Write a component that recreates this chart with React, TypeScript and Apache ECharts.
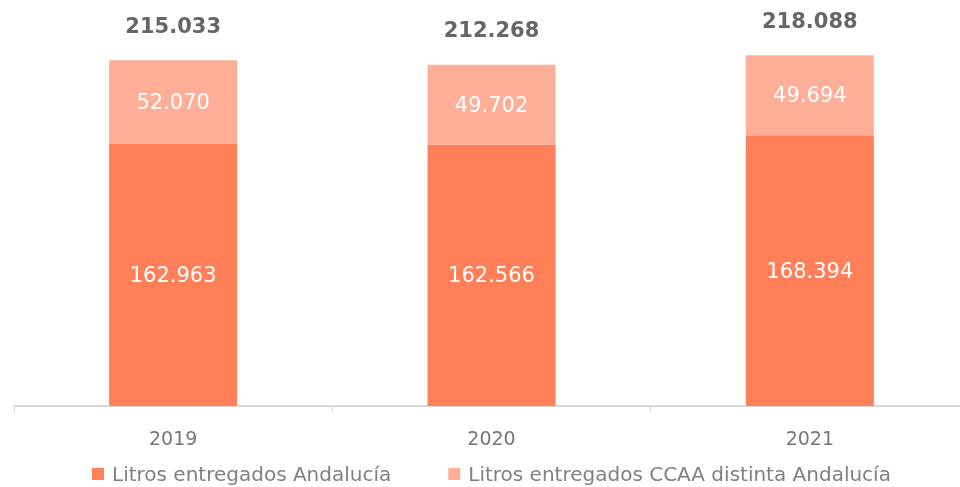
import React, { useEffect, useRef } from "react";
import * as echarts from "echarts";

const categories = ["2019", "2020", "2021"];
const andalucia = [162963, 162566, 168394];
const otrasCCAA = [52070, 49702, 49694];
const totals = [215033, 212268, 218088];
const seriesNames = ["Litros entregados Andalucía", "Litros entregados CCAA distinta Andalucía"];

const fmt = (v: number) => {
  const s = String(Math.round(v));
  return s.replace(/\B(?=(\d{3})+(?!\d))/g, ".");
};

export default function App() {
  const ref = useRef<HTMLDivElement>(null);
  useEffect(() => {
    if (!ref.current) return;
    const chart = echarts.init(ref.current, undefined, { renderer: "svg" });
    const font = "'DejaVu Sans', 'Noto Sans', sans-serif";
    chart.setOption({
      animation: false,
      textStyle: { fontFamily: font },
      grid: { left: 14, right: 0, top: 4, bottom: 81 },
      legend: {
        data: seriesNames,
        top: 459,
        left: 87,
        padding: 5,
        itemWidth: 12,
        itemHeight: 12,
        itemGap: 57,
        icon: "rect",
        textStyle: {
          color: "#808080",
          fontSize: 20,
          lineHeight: 20,
          fontFamily: font,
          padding: [0, 0, 0, 3],
        },
      },
      xAxis: {
        type: "category",
        data: categories,
        axisLine: { lineStyle: { color: "#d9d9d9", width: 2 } },
        axisTick: { show: true, length: 6, lineStyle: { color: "#d9d9d9", width: 1 } },
        axisLabel: { color: "#767676", fontSize: 19, margin: 22, fontFamily: font },
      },
      yAxis: {
        type: "value",
        min: 0,
        max: 250000,
        show: false,
        splitLine: { show: false },
      },
      series: [
        {
          name: seriesNames[0],
          type: "bar",
          stack: "total",
          data: andalucia,
          barWidth: 128,
          itemStyle: { color: "#FF7F59" },
          label: {
            show: true,
            position: "inside",
            color: "#ffffff",
            fontSize: 21,
            fontFamily: font,
            formatter: (p: any) => fmt(p.value),
          },
        },
        {
          name: seriesNames[1],
          type: "bar",
          stack: "total",
          data: otrasCCAA,
          barWidth: 128,
          itemStyle: { color: "#FFAF98" },
          label: {
            show: true,
            position: "inside",
            color: "#ffffff",
            fontSize: 21,
            fontFamily: font,
            formatter: (p: any) => fmt(p.value),
          },
        },
        {
          name: "Total",
          type: "bar",
          data: totals,
          barWidth: 128,
          barGap: "-100%",
          z: 0,
          itemStyle: { color: "rgba(0,0,0,0)" },
          label: {
            show: true,
            position: "top",
            distance: 24,
            color: "#666666",
            fontSize: 21,
            fontWeight: "bold",
            fontFamily: font,
            formatter: (p: any) => fmt(p.value),
          },
          emphasis: { disabled: true },
        },
      ],
    });
    return () => chart.dispose();
  }, []);
  return (
    <div
      ref={ref}
      style={{ position: "fixed", left: 0, top: 0, width: 969, height: 487 }}
    />
  );
}
